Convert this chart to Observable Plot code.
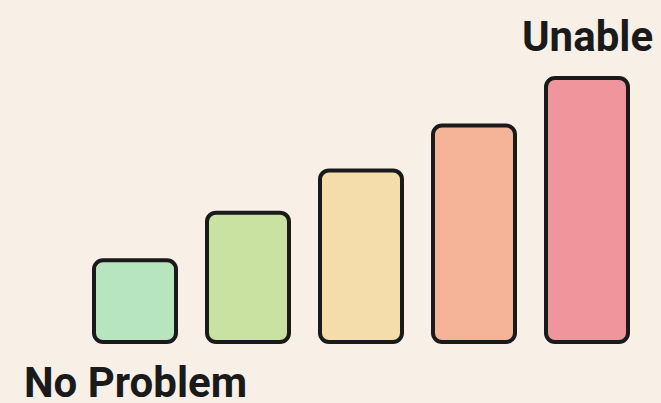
<!DOCTYPE html>
<html>
<head>
<meta charset="utf-8">
<script src="https://cdn.jsdelivr.net/npm/d3@7"></script>
<script src="https://cdn.jsdelivr.net/npm/@observablehq/plot@0.6"></script>
<style>
  html, body { margin: 0; padding: 0; background: #f8f0e7; }
  svg { display: block; }
</style>
</head>
<body>
<div id="chart"></div>
<script>
const categories = ["Level 1", "Level 2", "Level 3", "Level 4", "Level 5"];
const values = [31, 49, 65, 82, 100];
const colors = ["#b6e5bf", "#c9e2a1", "#f4dcab", "#f5b398", "#f0959b"];
const lowLabel = "No Problem";
const highLabel = "Unable";

const data = categories.map((c, i) => ({category: c, value: values[i], color: colors[i]}));

const chart = Plot.plot({
  width: 661,
  height: 403,
  marginLeft: 92,
  marginRight: 30,
  marginTop: 78,
  marginBottom: 61,
  style: {background: "#f8f0e7", fontFamily: "Roboto, sans-serif"},
  x: {domain: categories, paddingInner: 0.27, paddingOuter: 0, axis: null},
  y: {domain: [0, 100], axis: null},
  marks: [
    Plot.barY(data, {x: "category", y: "value", fill: "color", stroke: "#1a1a1a", strokeWidth: 4, rx: 9, inset: 0}),
    Plot.text([data[0]], {x: "category", y: 0, text: () => lowLabel, lineAnchor: "top", dy: 25, fontSize: 42, fontWeight: 700, fill: "#1a1a1a"}),
    Plot.text([data[4]], {x: "category", y: "value", text: () => highLabel, lineAnchor: "bottom", dy: -28, fontSize: 42, fontWeight: 700, fill: "#1a1a1a"})
  ]
});
document.getElementById("chart").appendChild(chart);
</script>
</body>
</html>
